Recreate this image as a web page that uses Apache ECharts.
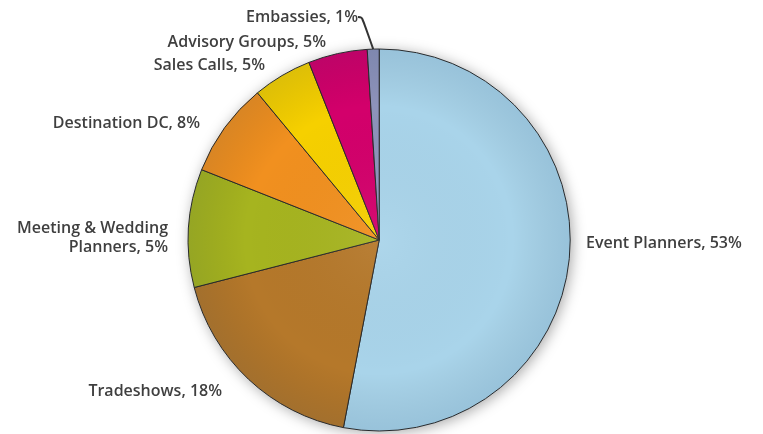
<!DOCTYPE html>
<html>
<head>
<meta charset="utf-8">
<script src="https://cdn.jsdelivr.net/npm/echarts@6/dist/echarts.min.js"></script>
<style>
html,body{margin:0;padding:0;background:#fff;}
#chart{width:763px;height:434px;}
</style>
</head>
<body>
<div id="chart"></div>
<script>
// Data (clockwise from 12 o'clock)
var categories = ['Event Planners', 'Tradeshows', 'Meeting & Wedding\nPlanners', 'Destination DC', 'Sales Calls', 'Advisory Groups', 'Embassies'];
var sliceValues = [53, 18, 10, 8, 5, 5, 1];          // slice sizes as drawn
var labelPercents = ['53%', '18%', '5%', '8%', '5%', '5%', '1%']; // percentages as printed
var colors = ['#a9d4ea', '#b5782a', '#a6b41f', '#f1901f', '#f6d000', '#d3006b', '#8d93bb'];

// label anchors (layout only)
var labelAnchors = [
  {x: 586, y: 243, align: 'left'},
  {x: 222, y: 391, align: 'right'},
  {x: 168, y: 238, align: 'right'},
  {x: 200, y: 123, align: 'right'},
  {x: 265, y: 65, align: 'right'},
  {x: 326, y: 42, align: 'right'},
  {x: 358, y: 17, align: 'right'}
];

var chart = echarts.init(document.getElementById('chart'), null, {renderer: 'canvas'});

var data = categories.map(function (c, i) {
  return {
    name: c,
    value: sliceValues[i],
    itemStyle: {color: colors[i]},
    label: {formatter: c + ', ' + labelPercents[i]},
    labelLine: {show: i === 6}
  };
});

var center = ['49.7%', '55.3%'];
var radius = 191;

chart.setOption({
  animation: false,
  series: [
    {
      type: 'pie',
      silent: true,
      z: 1,
      center: center,
      radius: radius,
      label: {show: false},
      itemStyle: {color: '#fff', shadowBlur: 14, shadowColor: 'rgba(0,0,0,0.35)', shadowOffsetX: 2, shadowOffsetY: 2},
      data: [{value: 1, name: 'bg'}]
    },
    {
      type: 'pie',
      z: 2,
      center: center,
      radius: radius,
      startAngle: 90,
      clockwise: true,
      silent: true,
      avoidLabelOverlap: false,
      itemStyle: {borderColor: '#2a2a2a', borderWidth: 1},
      label: {
        show: true,
        position: 'outside',
        color: '#3f3f3f',
        fontFamily: '"Open Sans", Lato, sans-serif',
        fontWeight: 600,
        fontSize: 16,
        lineHeight: 19
      },
      labelLine: {
        length: 8, length2: 4, smooth: 0.4,
        lineStyle: {color: '#333', width: 2}
      },
      labelLayout: function (params) {
        var a = labelAnchors[params.dataIndex];
        return {x: a.x, y: a.y, align: a.align, verticalAlign: 'middle'};
      },
      data: data
    },
    {
      type: 'pie',
      silent: true,
      z: 3,
      center: center,
      radius: radius,
      label: {show: false},
      itemStyle: {
        color: {
          type: 'radial', x: 0.5, y: 0.5, r: 0.5,
          colorStops: [
            {offset: 0, color: 'rgba(255,255,255,0.06)'},
            {offset: 0.7, color: 'rgba(0,0,0,0)'},
            {offset: 1, color: 'rgba(0,40,80,0.10)'}
          ]
        }
      },
      data: [{value: 1, name: 'shade'}]
    }
  ]
});
</script>
</body>
</html>
